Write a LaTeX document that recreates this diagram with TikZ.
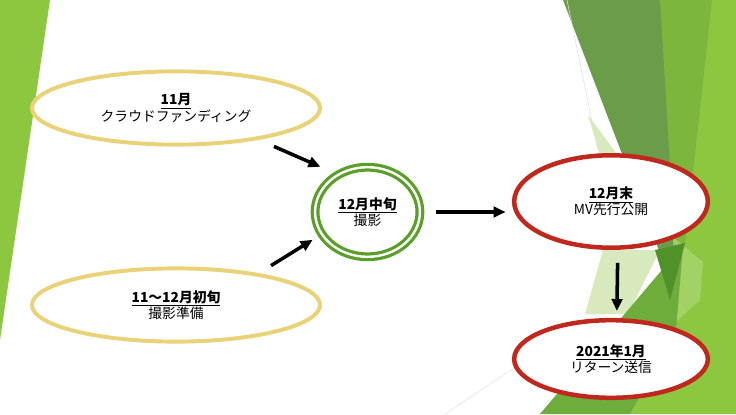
\documentclass[tikz,border=0pt]{standalone}
\usepackage{fontspec}
\setmainfont{Noto Sans CJK JP}
\usetikzlibrary{arrows.meta,shapes.geometric}

\definecolor{leafgreen}{RGB}{141,198,63}
\definecolor{midgreen}{RGB}{125,182,60}
\definecolor{darkfacet}{RGB}{106,156,74}
\definecolor{deepgreen}{RGB}{80,145,42}
\definecolor{grassgreen}{RGB}{110,172,60}
\definecolor{palegreen}{RGB}{216,233,190}
\definecolor{lightgreen}{RGB}{168,212,112}
\definecolor{sandline}{RGB}{234,210,120}
\definecolor{ringgreen}{RGB}{90,160,40}
\definecolor{brickred}{RGB}{192,40,30}

\begin{document}
\begin{tikzpicture}[x=0.025cm,y=-0.025cm,
    every node/.style={font=\fontsize{9.8pt}{11.6pt}\selectfont, align=center, inner sep=0pt},
    sandnode/.style={shape=ellipse, draw=sandline, line width=2.8pt, fill=white, minimum width=7.2cm, minimum height=1.83cm},
    ringnode/.style={shape=ellipse, draw=ringgreen, line width=2.3pt, double=white, double distance=1.7pt, fill=white, minimum width=2.62cm, minimum height=2.24cm},
    rednode/.style={shape=ellipse, draw=brickred, line width=3.2pt, fill=white, minimum width=4.84cm},
    flow/.style={-{Triangle[length=8.5pt,width=7.5pt]}, line width=2.5pt, black}]
    \useasboundingbox (0,0) rectangle (736,414);

    % background facets
    \fill[leafgreen] (0,0) -- (50,0) -- (0,340) -- cycle;
    \fill[leafgreen] (690,0) -- (736,0) -- (736,414) -- (630,414) -- (676,320) -- cycle;
    \fill[midgreen] (655,0) -- (712,0) -- (690,200) -- (676,320) -- (672,300) -- cycle;
    \fill[darkfacet] (563,0) -- (660,0) -- (678,300) -- cycle;
    \fill[palegreen] (588,115) -- (620,158) -- (604,168) -- cycle;
    \fill[palegreen] (603,250) -- (660,250) -- (628,314) -- (585,314) -- cycle;
    \fill[lightgreen, opacity=0.8] (673,237) -- (703,262) -- (700,300) -- (676,322) -- cycle;
    \fill[grassgreen] (540,414) -- (683,245) -- (676,330) -- (630,414) -- cycle;
    \fill[deepgreen] (655,250) -- (685,243) -- (670,300) -- cycle;
    \draw[gray!25, line width=0.4pt] (567,0) -- (602,170);
    \draw[gray!20, line width=0.4pt] (445,414) -- (590,318);

    \node[sandnode] (A) at (176,108) {\underline{\textbf{11月}}\\クラウドファンディング};
    \node[sandnode] (B) at (176,305) {\underline{\textbf{11～12月初旬}}\\撮影準備};
    \node[ringnode] (C) at (367.5,212) {\underline{\textbf{12月中旬}}\\撮影};
    \node[rednode, minimum height=2.31cm] (D) at (611,201.5) {\underline{\textbf{12月末}}\\MV先行公開};
    \node[rednode, minimum height=1.94cm] (E) at (611,359) {\underline{\textbf{2021年1月}}\\リターン送信};

    \draw[flow, shorten <=11.8pt, shorten >=12.6pt] (A.-21) -- (C.129);
    \draw[flow, shorten <=10.3pt, shorten >=6.6pt] (B.21) -- (C.206);
    \draw[flow, shorten <=10.5pt, shorten >=4.5pt] (C.east) -- (C.east -| D.west);
    \draw[flow, shorten <=9.2pt, shorten >=5pt] (D.-82) -- (E.82);

\end{tikzpicture}
\end{document}
